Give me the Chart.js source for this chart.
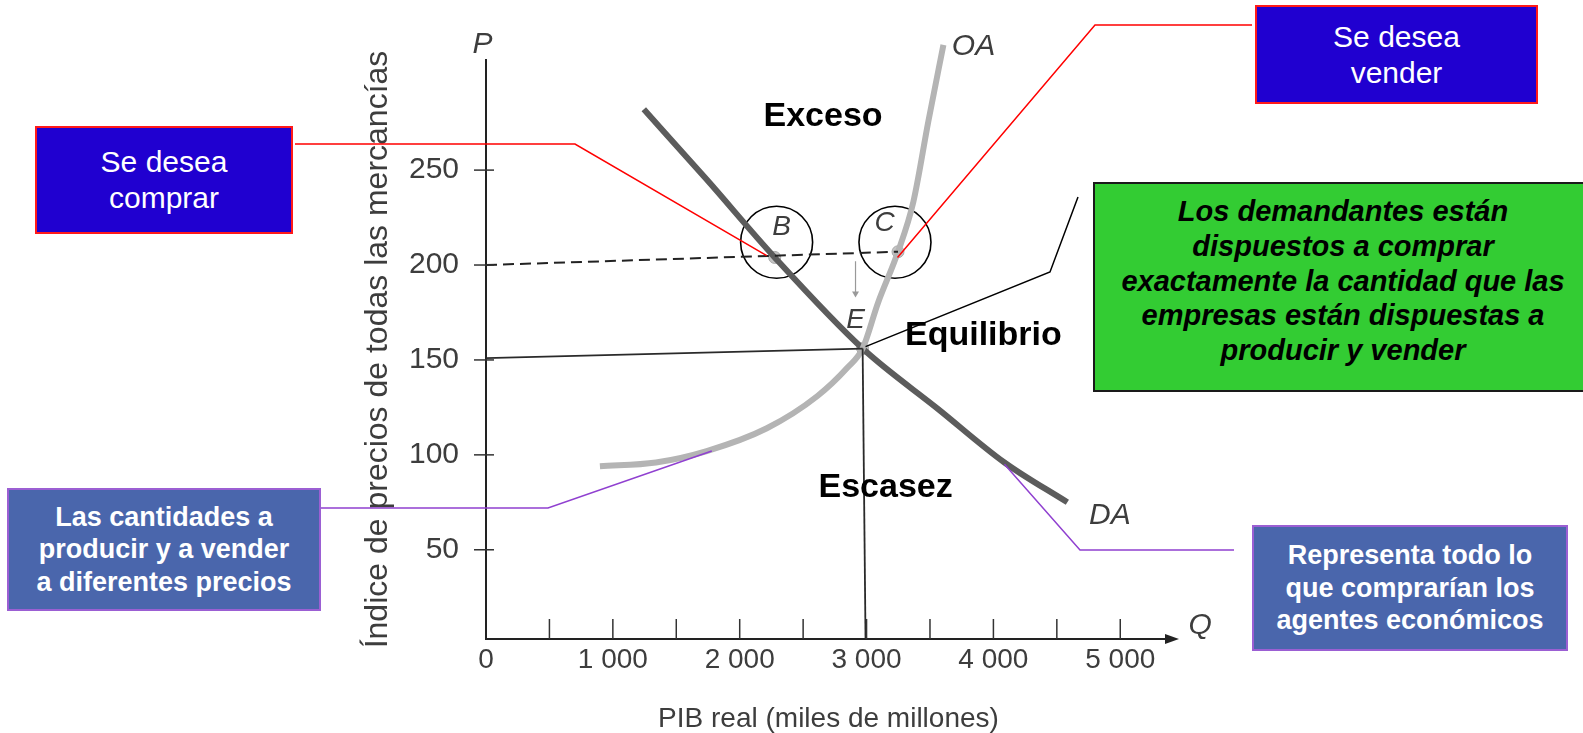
<!DOCTYPE html>
<html lang="es">
<head>
<meta charset="utf-8">
<title>Oferta y demanda agregadas</title>
<script src="https://cdn.jsdelivr.net/npm/chart.js@4.4.1/dist/chart.umd.min.js"></script>
<style>
  body { margin: 0; background: #fff; font-family: "Liberation Sans", Arial, sans-serif; }
  #wrap { position: relative; width: 1583px; height: 733px; overflow: hidden; }
  #chart { position: absolute; left: 0; top: 0; }
  .box { position: absolute; box-sizing: border-box; display: flex; align-items: center; justify-content: center; text-align: center; line-height: 1.2; }
  .blue { background: #2000d0; border: 2px solid #ff1a1a; color: #fff; font-size: 30px; }
  .steel { background: #4a66ac; border: 2px solid #9b5fd3; color: #fff; font-size: 27px; font-weight: bold; }
  .green { background: #33cc33; border: 2px solid #1a1a1a; color: #000; font-size: 29px; font-weight: bold; font-style: italic; }
</style>
</head>
<body>
<div id="wrap">
  <canvas id="chart" width="1583" height="733"></canvas>
  <div class="box blue" style="left:35px;top:126px;width:258px;height:108px;">Se desea<br>comprar</div>
  <div class="box blue" style="left:1255px;top:5px;width:283px;height:99px;">Se desea<br>vender</div>
  <div class="box green" style="left:1093px;top:182px;width:500px;height:210px;padding-bottom:12px;">Los demandantes están<br>dispuestos a comprar<br>exactamente la cantidad que las<br>empresas están dispuestas a<br>producir y vender</div>
  <div class="box steel" style="left:7px;top:488px;width:314px;height:123px;">Las cantidades a<br>producir y a vender<br>a diferentes precios</div>
  <div class="box steel" style="left:1252px;top:525px;width:316px;height:126px;">Representa todo lo<br>que comprarían los<br>agentes económicos</div>
</div>
<script>
// demand (DA) and supply (OA) curves
const demandQ = [1244, 1740, 2276, 2969, 3567, 4087, 4583];
const demandP = [282, 245, 204, 156, 124, 96, 75];
const supplyQ = [898, 1340, 1740, 2214, 2613, 2850, 2969, 3090, 3248, 3368, 3488, 3606];
const supplyP = [94, 96, 102, 114, 131, 146, 156, 180, 207, 233, 276, 316];

// price 200 (dashed) and equilibrium guides
const highPriceQ = [0, 3248];
const highPriceP = [200, 207];
const eqPriceQ = [0, 2969];
const eqPriceP = [151, 156];
const eqQtyQ = [2969, 2992];
const eqQtyP = [156, 3];
const arrowQ = [2913, 2913];
const arrowP = [202, 185];

// marked points B, C, E
const pointNames = ['B', 'C', 'E'];
const pointQ = [2276, 3248, 2969];
const pointP = [204, 207, 156];
const circleQ = [2291, 3224];
const circleP = [212, 212];

const xTicks = [0, 500, 1000, 1500, 2000, 2500, 3000, 3500, 4000, 4500, 5000];
const yTicks = [50, 100, 150, 200, 250];

// text placed in data coordinates
const notes = [
    { text: 'Exceso', q: 2657, p: 278, font: 'bold 34px "Liberation Sans", Arial', color: '#000' },
    { text: 'Equilibrio', q: 3921, p: 163, font: 'bold 34px "Liberation Sans", Arial', color: '#000' },
    { text: 'Escasez', q: 3150, p: 83, font: 'bold 34px "Liberation Sans", Arial', color: '#000' },
    { text: 'B', q: 2331, p: 220, font: 'italic 28px "Liberation Sans", Arial', color: '#3d3d3d' },
    { text: 'C', q: 3142, p: 222, font: 'italic 28px "Liberation Sans", Arial', color: '#3d3d3d' },
    { text: 'E', q: 2913, p: 171, font: 'italic 28px "Liberation Sans", Arial', color: '#3d3d3d' },
    { text: 'OA', q: 3843, p: 315, font: 'italic 30px "Liberation Sans", Arial', color: '#3d3d3d' },
    { text: 'DA', q: 4918, p: 68, font: 'italic 30px "Liberation Sans", Arial', color: '#3d3d3d' },
    { text: 'P', q: -27, p: 316, font: 'italic 30px "Liberation Sans", Arial', color: '#3d3d3d' },
    { text: 'Q', q: 5630, p: 10, font: 'italic 30px "Liberation Sans", Arial', color: '#3d3d3d' }
];

// leader lines: elbow in page pixels (next to the boxes), end on the chart in data coordinates
const leaders = [
    { color: '#ff0000', elbow: [[295, 144], [575, 144]], q: 2213, p: 205 },
    { color: '#ff0000', elbow: [[1252, 25], [1095, 25]], q: 3244, p: 204 },
    { color: '#000000', elbow: [[1078, 197], [1050, 272]], q: 2992, p: 157 },
    { color: '#9040d0', elbow: [[321, 508], [548, 508]], q: 1780, p: 102 },
    { color: '#9040d0', elbow: [[1234, 550], [1080, 550]], q: 4087, p: 95 }
];

const pairs = (qs, ps) => qs.map((q, i) => ({ x: q, y: ps[i] }));
const scanText = '#3d3d3d';

const overlay = {
    id: 'overlay',
    afterDatasetsDraw(chart) {
        const { ctx, chartArea, scales: { x, y } } = chart;
        ctx.save();

        // tick marks: x ticks stand up from the axis, y ticks cross it
        ctx.strokeStyle = '#333';
        ctx.lineWidth = 1.5;
        x.ticks.forEach(t => {
            if (t.value === 0) return;
            const px = x.getPixelForValue(t.value);
            ctx.beginPath();
            ctx.moveTo(px, chartArea.bottom);
            ctx.lineTo(px, chartArea.bottom - 20);
            ctx.stroke();
        });
        y.ticks.forEach(t => {
            const py = y.getPixelForValue(t.value);
            ctx.beginPath();
            ctx.moveTo(chartArea.left - 12, py);
            ctx.lineTo(chartArea.left + 8, py);
            ctx.stroke();
        });

        // arrow head on the Q axis
        ctx.fillStyle = '#222';
        ctx.beginPath();
        ctx.moveTo(chartArea.right + 8, chartArea.bottom);
        ctx.lineTo(chartArea.right - 6, chartArea.bottom - 5);
        ctx.lineTo(chartArea.right - 6, chartArea.bottom + 5);
        ctx.closePath();
        ctx.fill();

        notes.forEach(n => {
            ctx.font = n.font;
            ctx.fillStyle = n.color;
            ctx.textAlign = 'center';
            ctx.textBaseline = 'middle';
            ctx.fillText(n.text, x.getPixelForValue(n.q), y.getPixelForValue(n.p));
        });

        ctx.lineWidth = 1.5;
        leaders.forEach(l => {
            ctx.strokeStyle = l.color;
            ctx.beginPath();
            ctx.moveTo(l.elbow[0][0], l.elbow[0][1]);
            l.elbow.slice(1).forEach(pt => ctx.lineTo(pt[0], pt[1]));
            ctx.lineTo(x.getPixelForValue(l.q), y.getPixelForValue(l.p));
            ctx.stroke();
        });

        ctx.restore();
    }
};

document.addEventListener("DOMContentLoaded", function () {
    const ctx = document.getElementById('chart').getContext('2d');
    new Chart(ctx, {
        type: 'scatter',
        data: {
            datasets: [
                {
                    label: 'precio 200',
                    data: pairs(highPriceQ, highPriceP),
                    showLine: true,
                    borderColor: '#222',
                    borderWidth: 2,
                    borderDash: [11, 6],
                    pointRadius: 0
                },
                {
                    label: 'precio de equilibrio',
                    data: pairs(eqPriceQ, eqPriceP),
                    showLine: true,
                    borderColor: '#2a2a2a',
                    borderWidth: 1.8,
                    pointRadius: 0
                },
                {
                    label: 'cantidad de equilibrio',
                    data: pairs(eqQtyQ, eqQtyP),
                    showLine: true,
                    borderColor: '#2a2a2a',
                    borderWidth: 1.8,
                    pointRadius: 0
                },
                {
                    label: 'flecha',
                    data: pairs(arrowQ, arrowP),
                    showLine: true,
                    borderColor: '#999',
                    borderWidth: 1.2,
                    pointRadius: [0, 4],
                    pointStyle: 'triangle',
                    rotation: 180,
                    pointBackgroundColor: '#999',
                    pointBorderWidth: 0
                },
                {
                    label: 'OA',
                    data: pairs(supplyQ, supplyP),
                    showLine: true,
                    cubicInterpolationMode: 'monotone',
                    borderColor: '#b4b4b4',
                    borderWidth: 6,
                    pointRadius: 0,
                    clip: false
                },
                {
                    label: 'DA',
                    data: pairs(demandQ, demandP),
                    showLine: true,
                    cubicInterpolationMode: 'monotone',
                    borderColor: '#5c5c5c',
                    borderWidth: 6,
                    pointRadius: 0,
                    clip: false
                },
                {
                    label: pointNames.join(', '),
                    data: pairs(pointQ, pointP),
                    pointRadius: 6,
                    pointBackgroundColor: '#c4c4c4',
                    pointBorderColor: '#a8a8a8',
                    pointBorderWidth: 1
                },
                {
                    label: 'círculos',
                    data: pairs(circleQ, circleP),
                    pointRadius: 36,
                    pointBackgroundColor: 'rgba(0,0,0,0)',
                    pointBorderColor: '#000',
                    pointBorderWidth: 1.6
                }
            ]
        },
        options: {
            responsive: false,
            animation: false,
            events: [],
            layout: { padding: { left: 345, right: 412, top: 60, bottom: 0 } },
            plugins: {
                legend: { display: false },
                tooltip: { enabled: false }
            },
            scales: {
                x: {
                    type: 'linear',
                    min: 0,
                    max: 5400,
                    afterBuildTicks: scale => { scale.ticks = xTicks.map(v => ({ value: v })); },
                    afterFit: scale => { scale.height = 94; },
                    grid: { display: false, drawTicks: false },
                    border: { display: true, color: '#222', width: 2 },
                    ticks: {
                        padding: 4,
                        autoSkip: false,
                        maxRotation: 0,
                        minRotation: 0,
                        color: scanText,
                        font: { family: '"Liberation Sans", Arial', size: 28 },
                        callback: v => v % 1000 === 0 ? (v === 0 ? '0' : (v / 1000) + ' 000') : ''
                    },
                    title: {
                        display: true,
                        text: 'PIB real (miles de millones)',
                        color: scanText,
                        font: { family: '"Liberation Sans", Arial', size: 28, lineHeight: 1 },
                        padding: 0
                    }
                },
                y: {
                    type: 'linear',
                    min: 3,
                    max: 308,
                    afterBuildTicks: scale => { scale.ticks = yTicks.map(v => ({ value: v })); },
                    afterFit: scale => { scale.width = 141; },
                    grid: { display: false, drawTicks: false },
                    border: { display: true, color: '#222', width: 2 },
                    ticks: {
                        padding: 27,
                        color: scanText,
                        font: { family: '"Liberation Sans", Arial', size: 30 }
                    },
                    title: {
                        display: true,
                        text: 'Índice de precios de todas las mercancías',
                        color: scanText,
                        font: { family: '"Liberation Sans", Arial', size: 32 },
                        padding: { top: 14, bottom: 0 }
                    }
                }
            }
        },
        plugins: [overlay]
    });
});
</script>
</body>
</html>
